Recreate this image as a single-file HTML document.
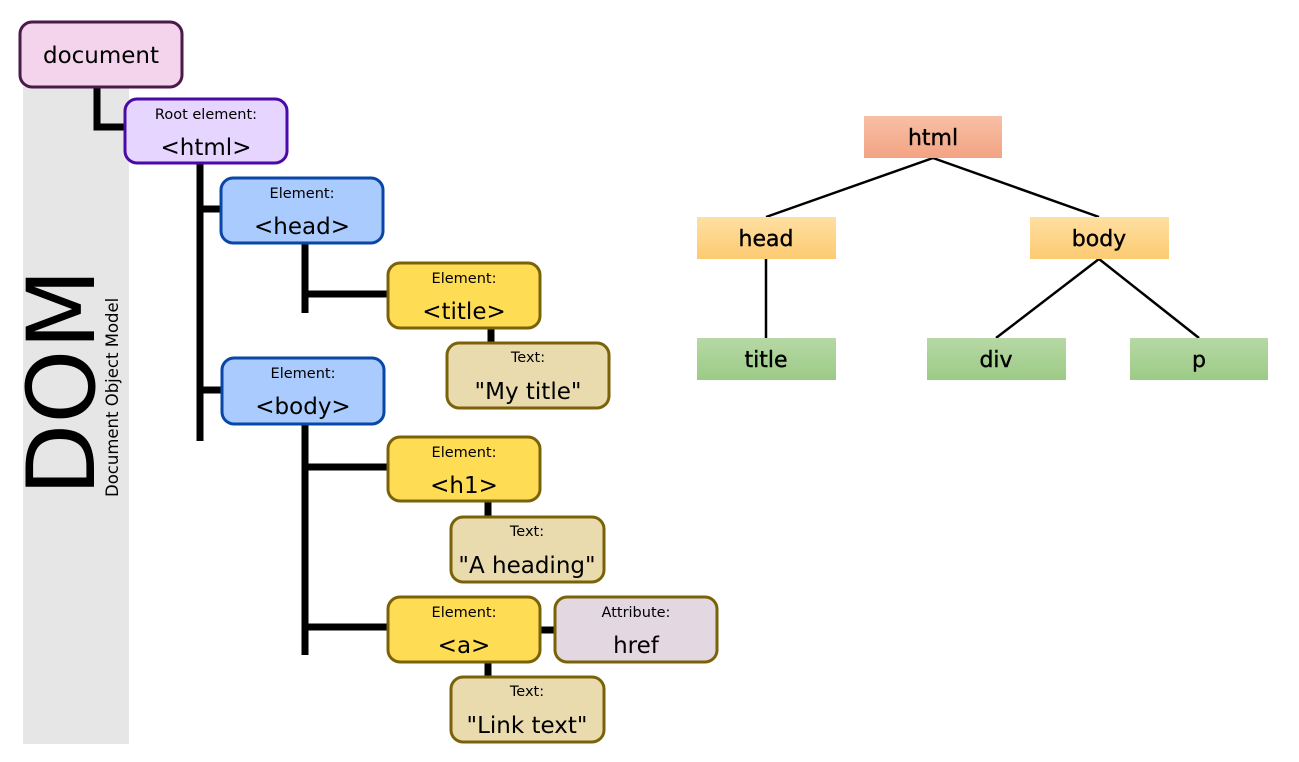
<!DOCTYPE html>
<html><head><meta charset="utf-8"><style>body{margin:0;background:#fff}svg{display:block}</style></head><body>
<svg width="1299" height="762" xmlns="http://www.w3.org/2000/svg" font-family="DejaVu Sans, sans-serif">
<defs>
<linearGradient id="gr" x1="0" y1="0" x2="0" y2="1"><stop offset="0" stop-color="#f7c0a6"/><stop offset="1" stop-color="#f3a383"/></linearGradient>
<linearGradient id="go" x1="0" y1="0" x2="0" y2="1"><stop offset="0" stop-color="#fee0a3"/><stop offset="1" stop-color="#fdca71"/></linearGradient>
<linearGradient id="gg" x1="0" y1="0" x2="0" y2="1"><stop offset="0" stop-color="#b6d8a5"/><stop offset="1" stop-color="#9ccb86"/></linearGradient>
</defs>
<rect x="23" y="87" width="106" height="657" fill="#e6e6e6"/>
<text transform="translate(94,496) rotate(-90)" font-size="94" fill="#000">DOM</text>
<text transform="translate(118,497) rotate(-90)" font-size="16.5" fill="#000">Document Object Model</text>
<g stroke="#000" stroke-width="7" fill="none">
<path d="M97 87 V127 H125"/>
<path d="M200 163 V441 M200 209 H221 M200 390 H222"/>
<path d="M305 243 V313 M305 294 H388"/>
<path d="M305 424 V655 M305 467 H388 M305 627 H388"/>
<path d="M491 328 V343 M488 501 V517 M488 662 V677 M540 630 H555"/>
</g>
<g stroke-width="3">
<rect x="20" y="22" width="162" height="65" rx="12" fill="#f4d3ec" stroke="#4a1a48"/>
<rect x="125" y="99" width="162" height="64" rx="12" fill="#e6d5fe" stroke="#4a0aa8"/>
<rect x="221" y="178" width="162" height="65" rx="12" fill="#aacbfd" stroke="#0846a8"/>
<rect x="222" y="358" width="162" height="66" rx="12" fill="#aacbfd" stroke="#0846a8"/>
<rect x="388" y="263" width="152" height="65" rx="12" fill="#fedd55" stroke="#7a6208"/>
<rect x="388" y="437" width="152" height="64" rx="12" fill="#fedd55" stroke="#7a6208"/>
<rect x="388" y="597" width="152" height="65" rx="12" fill="#fedd55" stroke="#7a6208"/>
<rect x="447" y="343" width="162" height="65" rx="12" fill="#e9dbae" stroke="#7a6208"/>
<rect x="451" y="517" width="153" height="65" rx="12" fill="#e9dbae" stroke="#7a6208"/>
<rect x="451" y="677" width="153" height="65" rx="12" fill="#e9dbae" stroke="#7a6208"/>
<rect x="555" y="597" width="162" height="65" rx="12" fill="#e3d8e1" stroke="#7a6208"/>
</g>
<g text-anchor="middle" fill="#000">
<text x="101" y="63" font-size="23">document</text>
<text x="206" y="119" font-size="14.5">Root element:</text><text x="206" y="155" font-size="23">&lt;html&gt;</text>
<text x="302" y="198" font-size="14.5">Element:</text><text x="302" y="234" font-size="23">&lt;head&gt;</text>
<text x="303" y="378" font-size="14.5">Element:</text><text x="303" y="414" font-size="23">&lt;body&gt;</text>
<text x="464" y="283" font-size="14.5">Element:</text><text x="464" y="319" font-size="23">&lt;title&gt;</text>
<text x="464" y="457" font-size="14.5">Element:</text><text x="464" y="493" font-size="23">&lt;h1&gt;</text>
<text x="464" y="617" font-size="14.5">Element:</text><text x="464" y="653" font-size="23">&lt;a&gt;</text>
<text x="528" y="362" font-size="14.5">Text:</text><text x="528" y="399" font-size="23">"My title"</text>
<text x="527" y="536" font-size="14.5">Text:</text><text x="527" y="573" font-size="23">"A heading"</text>
<text x="527" y="696" font-size="14.5">Text:</text><text x="527" y="733" font-size="23">"Link text"</text>
<text x="636" y="617" font-size="14.5">Attribute:</text><text x="636" y="653" font-size="23">href</text>
</g>
<g stroke="#000" stroke-width="2.5" fill="none">
<path d="M933 158 L766 217 M933 158 L1099 217 M766 259 V338 M1099 259 L996 338 M1099 259 L1199 338"/>
</g>
<rect x="864" y="116" width="138" height="42" fill="url(#gr)"/>
<rect x="697" y="217" width="139" height="42" fill="url(#go)"/>
<rect x="1030" y="217" width="139" height="42" fill="url(#go)"/>
<rect x="697" y="338" width="139" height="42" fill="url(#gg)"/>
<rect x="927" y="338" width="139" height="42" fill="url(#gg)"/>
<rect x="1130" y="338" width="138" height="42" fill="url(#gg)"/>
<g text-anchor="middle" font-size="22" fill="#000" stroke="#000" stroke-width="0.4">
<text x="933" y="145">html</text>
<text x="766" y="246">head</text>
<text x="1099" y="246">body</text>
<text x="766" y="367">title</text>
<text x="996" y="367">div</text>
<text x="1199" y="367">p</text>
</g>
</svg>
</body></html>
